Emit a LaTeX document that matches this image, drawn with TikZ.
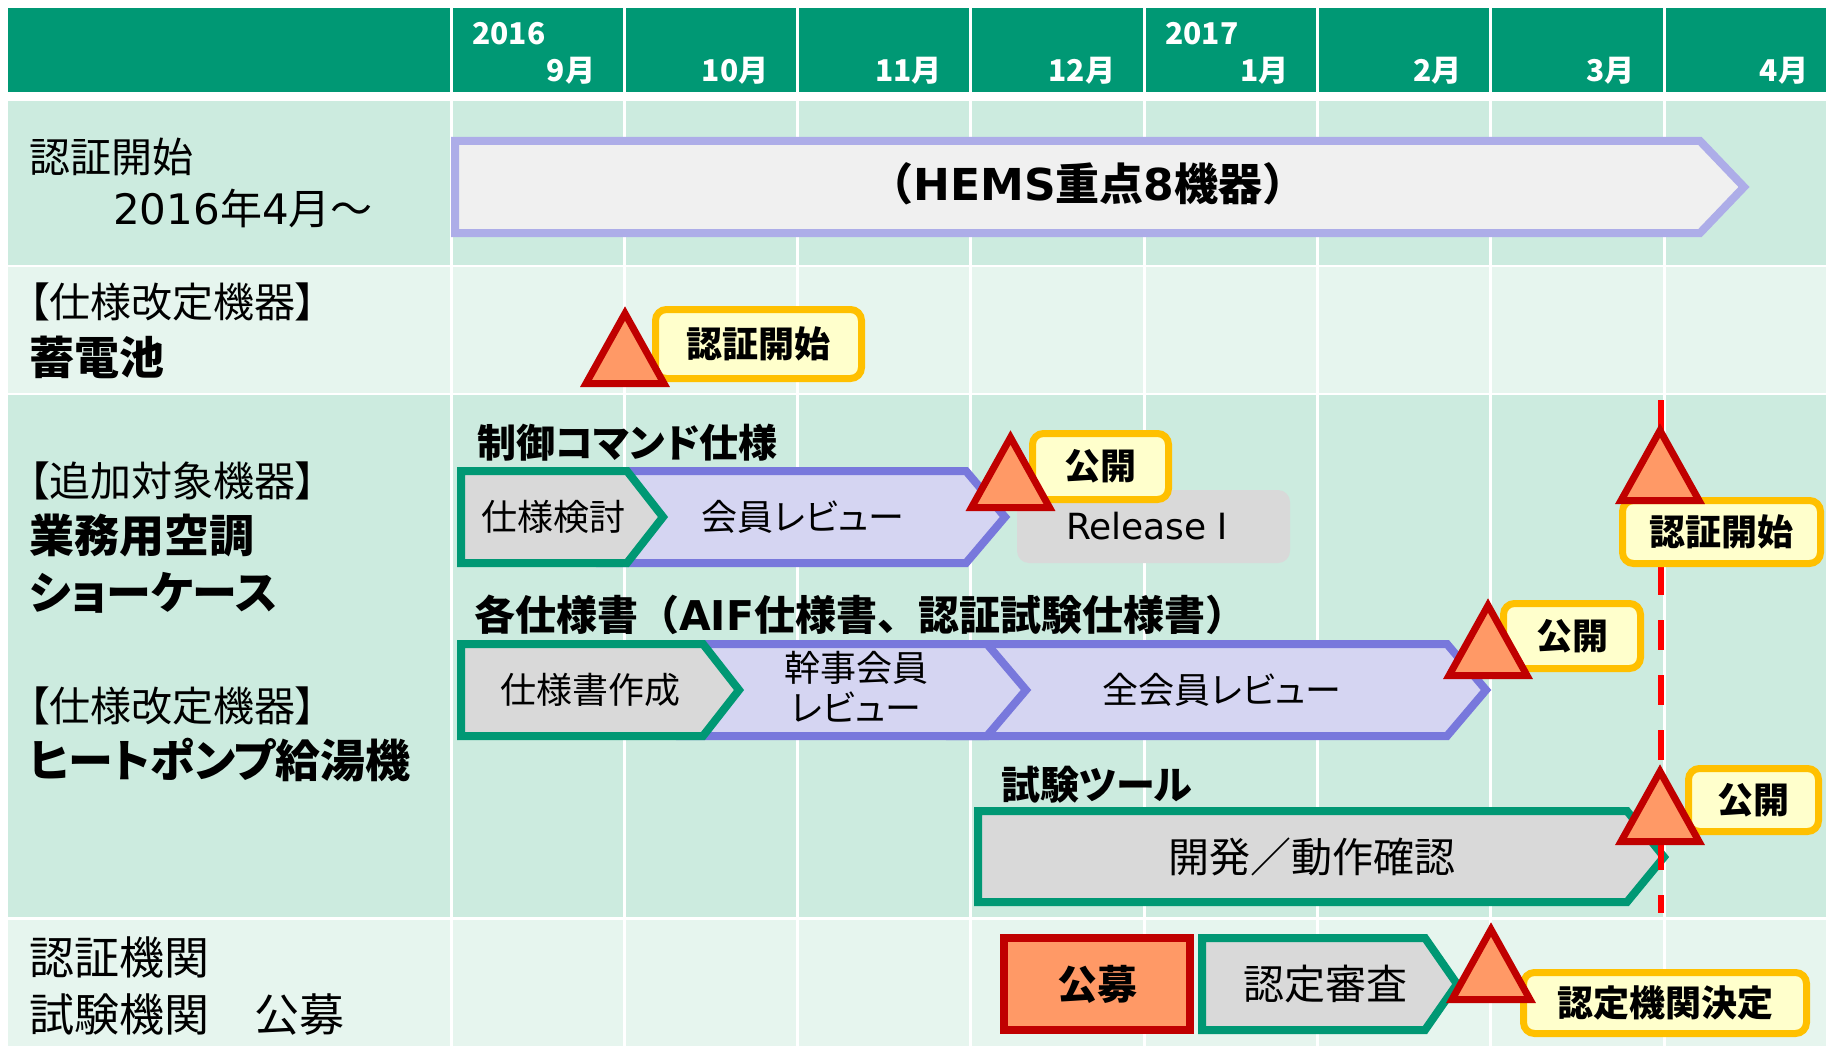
\documentclass[tikz,border=0pt]{standalone}
\usepackage{fontspec}
\setmainfont{Noto Sans CJK JP}[RawFeature=+palt]
\newfontfamily\fullfont{Noto Sans CJK JP}
\newfontfamily\latinfont{DejaVu Sans}
\definecolor{headgreen}{RGB}{0,152,116}
\definecolor{rowdark}{RGB}{204,235,223}
\definecolor{rowlight}{RGB}{230,245,238}
\definecolor{hemsline}{RGB}{173,173,232}
\definecolor{hemsfill}{RGB}{240,240,240}
\definecolor{revline}{RGB}{120,120,220}
\definecolor{revfill}{RGB}{213,213,242}
\definecolor{taskfill}{RGB}{217,217,217}
\definecolor{msred}{RGB}{192,0,0}
\definecolor{msorange}{RGB}{255,153,102}
\definecolor{tagline}{RGB}{255,192,0}
\definecolor{tagfill}{RGB}{255,255,204}
\tikzset{
  hemsbar/.style={draw=hemsline,fill=hemsfill,line width=8pt},
  taskbar/.style={draw=headgreen,fill=taskfill,line width=8pt},
  reviewbar/.style={draw=revline,fill=revfill,line width=8pt},
  milestone/.style={draw=msred,fill=msorange,line width=7pt},
  tag/.style={draw=tagline,fill=tagfill,line width=7pt,rounded corners=11pt,
    inner sep=0pt,font=\fontsize{36}{40}\selectfont\bfseries},
  cutoff/.style={draw=red,line width=6pt,dash pattern=on 30pt off 25pt,dash phase=50pt},
  rowlabel/.style={anchor=west,inner sep=0pt,font=\fontsize{41}{48}\selectfont},
  rowtitle/.style={rowlabel,font=\fontsize{45}{52}\selectfont\bfseries},
  bartext/.style={inner sep=0pt,font=\fontsize{36}{40}\selectfont},
  bartitle/.style={anchor=west,inner sep=0pt,font=\fontsize{39}{44}\selectfont\bfseries},
  monthlabel/.style={anchor=base east,inner sep=0pt,text=white,font=\fontsize{30}{34}\selectfont\bfseries}
}
\begin{document}
\begin{tikzpicture}[x=1pt,y=-1pt]
  \useasboundingbox (0,0) rectangle (1826,1046);
  \fill[headgreen] (8,8) rectangle (1826,92);
  \fill[rowdark] (8,101) rectangle (1826,265);
  \fill[rowlight] (8,267) rectangle (1826,393);
  \fill[rowdark] (8,395) rectangle (1826,917);
  \fill[rowlight] (8,920) rectangle (1826,1046);
  \foreach \i in {0,...,7}
  \draw[white,line width=3pt] ({451+173.3*\i},8) -- ++(0,1038);
  \foreach \m [count=\i] in {9月,10月,11月,12月,1月,2月,3月,4月}
  \node[monthlabel] (m\i) at ({451+173.3*\i-29},82) {\m};
  \node[monthlabel,anchor=base west] (y2016) at (472,45) {2016};
  \node[monthlabel,anchor=base west] (y2017) at (1165,45) {2017};

  \node[rowlabel] (start) at (29,157) {認証開始};
  \node[rowlabel,font=\fullfont\fontsize{42}{48}\selectfont] (since) at (113,208) {{\latinfont 2016}年{\latinfont 4}月～};
  \node[rowlabel] (revised) at (29,302) {【仕様改定機器】};
  \node[rowtitle] (battery) at (29,357) {蓄電池};
  \node[rowlabel] (added) at (29,481) {【追加対象機器】};
  \node[rowtitle] (aircon) at (29,536) {業務用空調};
  \node[rowtitle] (showcase) at (29,593) {ショーケース};
  \node[rowlabel] (revised2) at (29,706) {【仕様改定機器】};
  \node[rowtitle] (heatpump) at (29,760) {ヒートポンプ給湯機};
  \node[rowlabel,font=\fontsize{45}{50}\selectfont] (bodies) at (29,957) {認証機関};
  \node[rowlabel,font=\fontsize{45}{50}\selectfont] (labs) at (29,1015) {試験機関　公募};

  \draw[hemsbar] (455,141) -- (1700,141) -- (1744,187) -- (1700,233) -- (455,233) -- cycle;
  \node[inner sep=0pt,font=\fullfont\fontsize{44}{48}\selectfont\bfseries] (hems) at (1088,184) {（{\latinfont HEMS}重点{\latinfont 8}機器）};

  \node[bartitle] (command) at (477,443) {制御コマンド仕様};
  \node[fill=taskfill,rounded corners=12pt,minimum width=273pt,minimum height=73pt,
    inner sep=0pt,font=\fontsize{36}{40}\selectfont] (release) at (1153.5,526.5) {{\latinfont Release}\hspace{-2pt}Ⅰ};
  \draw[reviewbar] (600,471) -- (966,471) -- (1005,517) -- (966,563) -- (600,563) -- cycle;
  \draw[taskbar] (461,471) -- (627,471) -- (663,517) -- (627,563) -- (461,563) -- cycle;
  \node[bartext] (study) at (553,517) {仕様検討};
  \node[bartext] (review) at (803,517) {会員レビュー};

  \node[bartitle,font=\fullfont\fontsize{41}{46}\selectfont\bfseries] (specs) at (474,615) {各仕様書（{\latinfont AIF}仕様書、認証試験仕様書）};
  \draw[reviewbar] (950,644) -- (1447,644) -- (1486,690) -- (1447,736) -- (950,736) -- cycle;
  \draw[reviewbar] (680,644) -- (987,644) -- (1026,690) -- (987,736) -- (680,736) -- cycle;
  \draw[taskbar] (461,644) -- (703,644) -- (739,690) -- (703,736) -- (461,736) -- cycle;
  \node[bartext] (draft) at (590,690) {仕様書作成};
  \node[bartext,align=center] (leadrev) at (856,687) {幹事会員\\レビュー};
  \node[bartext] (allrev) at (1222,690) {全会員レビュー};

  \node[bartitle] (tool) at (1001,785) {試験ツール};
  \draw[taskbar] (978,811) -- (1627,811) -- (1664,857) -- (1627,902) -- (978,902) -- cycle;
  \node[bartext,font=\fontsize{41}{46}\selectfont] (tooldev) at (1312,857) {開発／動作確認};

  \node[draw=msred,fill=msorange,line width=8pt,minimum width=186pt,minimum height=92pt,
    inner sep=0pt,font=\fontsize{40}{44}\selectfont\bfseries] (call) at (1097,984) {公募};
  \draw[taskbar] (1202,938) -- (1425,938) -- (1457,984) -- (1425,1030) -- (1202,1030) -- cycle;
  \node[bartext,font=\fontsize{41}{46}\selectfont] (audit) at (1325,984) {認定審査};

  \coordinate (limtop) at (1661,395);
  \coordinate (limbot) at (1661,913);
  \draw[cutoff] (limtop) -- (limbot);

  \node[tag,minimum width=206pt,minimum height=69pt] (go1) at (758.5,344) {認証開始};
  \node[tag,minimum width=136pt,minimum height=66pt] (pub1) at (1100.5,466.5) {公開};
  \node[tag,minimum width=137pt,minimum height=65pt] (pub2) at (1572,636) {公開};
  \node[tag,minimum width=198pt,minimum height=63pt] (go2) at (1721.5,532) {認証開始};
  \node[tag,minimum width=130pt,minimum height=63pt] (pub3) at (1753.5,800) {公開};
  \node[tag,minimum width=283pt,minimum height=61pt] (decided) at (1665,1003) {認定機関決定};

  \foreach \x/\y in {625/383.5,1010.5/507.5,1488/675.5,1660/500.5,1660/841.5,1491/999.5}
  \draw[milestone] (\x-39,\y) -- ++(39,-70) -- ++(39,70) -- cycle;
\end{tikzpicture}
\end{document}
